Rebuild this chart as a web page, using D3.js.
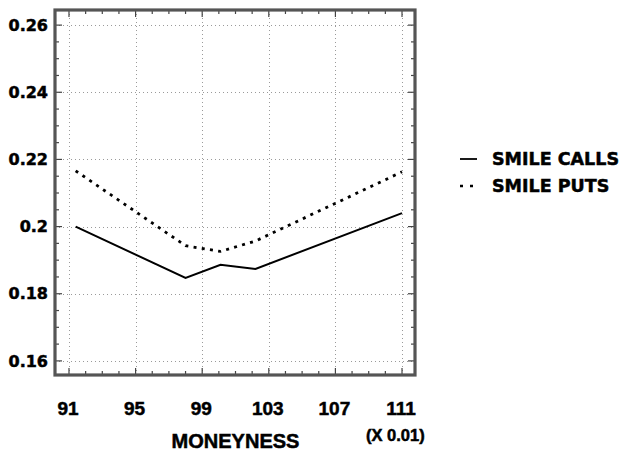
<!DOCTYPE html>
<html>
<head>
<meta charset="utf-8">
<script src="https://cdn.jsdelivr.net/npm/d3@7"></script>
<style>
  html, body { margin: 0; padding: 0; background: #fff; }
  svg { display: block; }
</style>
</head>
<body>
<svg id="chart" width="625" height="453"></svg>
<script>
// ---- data ----
const moneyness = [91.4, 98.0, 100.1, 102.2, 111.0];
const smileCalls = [0.2000, 0.1847, 0.1886, 0.1874, 0.2040];
const smilePuts  = [0.2166, 0.1943, 0.1926, 0.1957, 0.2163];
const xTicks = [91, 95, 99, 103, 107, 111];
const yTicks = [0.16, 0.18, 0.20, 0.22, 0.24, 0.26];
const yTickLabels = ["0.16", "0.18", "0.2", "0.22", "0.24", "0.26"];
const seriesNames = ["SMILE CALLS", "SMILE PUTS"];
const xTitle = "MONEYNESS";
const xUnit = "(X 0.01)";

// ---- layout ----
const svg = d3.select("#chart");
const L = 55, R = 415, T = 10, B = 375;
const x = d3.scaleLinear().domain([90.16, 111.78]).range([L, R]);
const y = d3.scaleLinear().domain([0.1558, 0.2645]).range([B, T]);

const xMinor = d3.range(91, 111.5, 1);
const yMinor = d3.range(0, 21).map(i => 0.16 + i * 0.005);

// grid
const grid = svg.append("g").attr("stroke", "#9a9a9a").attr("stroke-width", 1)
  .attr("stroke-dasharray", "1 3");
grid.selectAll("line.gx").data(xTicks).join("line")
  .attr("x1", d => Math.round(x(d)) + 0.5).attr("x2", d => Math.round(x(d)) + 0.5)
  .attr("y1", T).attr("y2", B);
grid.selectAll("line.gy").data(yTicks).join("line")
  .attr("y1", d => Math.round(y(d)) + 0.5).attr("y2", d => Math.round(y(d)) + 0.5)
  .attr("x1", L).attr("x2", R);

// ticks inward on all four sides
const tk = svg.append("g").attr("stroke", "#444").attr("stroke-width", 1.2);
const isMajorX = d => xTicks.some(t => Math.abs(t - d) < 1e-6);
const isMajorY = d => yTicks.some(t => Math.abs(t - d) < 1e-6);
tk.selectAll("line.bx").data(xMinor).join("line")
  .attr("x1", d => x(d)).attr("x2", d => x(d))
  .attr("y1", B).attr("y2", d => B - (isMajorX(d) ? 7 : 4));
tk.selectAll("line.tx").data(xMinor).join("line")
  .attr("x1", d => x(d)).attr("x2", d => x(d))
  .attr("y1", T).attr("y2", d => T + (isMajorX(d) ? 7 : 4));
tk.selectAll("line.ly").data(yMinor).join("line")
  .attr("y1", d => y(d)).attr("y2", d => y(d))
  .attr("x1", L).attr("x2", d => L + (isMajorY(d) ? 7 : 4));
tk.selectAll("line.ry").data(yMinor).join("line")
  .attr("y1", d => y(d)).attr("y2", d => y(d))
  .attr("x1", R).attr("x2", d => R - (isMajorY(d) ? 7 : 4));

// frame
svg.append("rect").attr("x", L).attr("y", T).attr("width", R - L).attr("height", B - T)
  .attr("fill", "none").attr("stroke", "#555").attr("stroke-width", 3.2);

// lines
const line = d3.line().x(d => x(d[0])).y(d => y(d[1]));
svg.append("path").datum(moneyness.map((m, i) => [m, smileCalls[i]]))
  .attr("d", line).attr("fill", "none").attr("stroke", "#000").attr("stroke-width", 2);
svg.append("path").datum(moneyness.map((m, i) => [m, smilePuts[i]]))
  .attr("d", line).attr("fill", "none").attr("stroke", "#000").attr("stroke-width", 2.8)
  .attr("stroke-dasharray", "3 5.3");

const heavy = sel => sel.attr("fill", "#000").attr("stroke", "#000").attr("stroke-width", 0.5);

// y tick labels
svg.append("g").selectAll("text").data(yTicks).join("text")
  .attr("x", 48).attr("y", d => y(d)).attr("dy", "0.36em")
  .attr("text-anchor", "end")
  .attr("font-family", "'DejaVu Sans', sans-serif").attr("font-weight", "bold")
  .attr("font-size", 16)
  .text((d, i) => yTickLabels[i])
  .call(heavy);

// x tick labels
svg.append("g").selectAll("text").data(xTicks).join("text")
  .attr("x", d => x(d) - 1).attr("y", 415)
  .attr("text-anchor", "middle")
  .attr("font-family", "'Liberation Sans', Arial, sans-serif").attr("font-weight", "bold")
  .attr("font-size", 19)
  .text(d => d)
  .call(heavy);

// axis title
svg.append("text").attr("x", 235.5).attr("y", 448)
  .attr("text-anchor", "middle")
  .attr("font-family", "'Liberation Sans', Arial, sans-serif").attr("font-weight", "bold")
  .attr("font-size", 20).text(xTitle).call(heavy);
svg.append("text").attr("x", 366).attr("y", 441)
  .attr("text-anchor", "start")
  .attr("font-family", "'Liberation Sans', Arial, sans-serif").attr("font-weight", "bold")
  .attr("font-size", 16.5).text(xUnit).call(heavy);

// legend
const legY = [159, 186];
const leg = svg.append("g");
leg.append("line").attr("x1", 460).attr("x2", 477).attr("y1", legY[0]).attr("y2", legY[0])
  .attr("stroke", "#000").attr("stroke-width", 1.8);
leg.append("line").attr("x1", 460).attr("x2", 473).attr("y1", legY[1]).attr("y2", legY[1])
  .attr("stroke", "#000").attr("stroke-width", 2.6).attr("stroke-dasharray", "3 7");
leg.selectAll("text").data(seriesNames).join("text")
  .attr("x", 492).attr("y", (d, i) => legY[i]).attr("dy", "0.36em")
  .attr("font-family", "'DejaVu Sans', sans-serif").attr("font-weight", "bold")
  .attr("font-size", 17.5)
  .text(d => d)
  .call(heavy);
</script>
</body>
</html>
